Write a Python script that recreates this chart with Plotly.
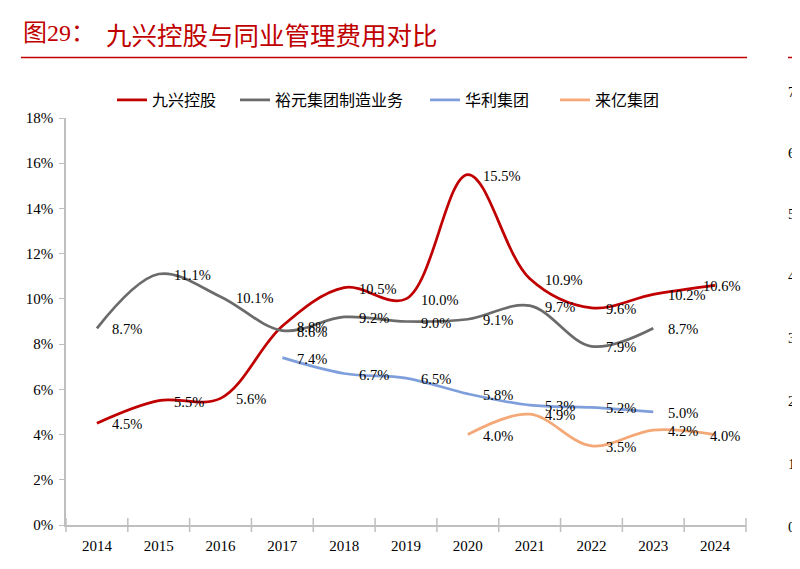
import plotly.graph_objects as go

years = ["2014", "2015", "2016", "2017", "2018", "2019", "2020", "2021", "2022", "2023", "2024"]
jiuxing = [4.5, 5.5, 5.6, 8.8, 10.5, 10.0, 15.5, 10.9, 9.6, 10.2, 10.6]
yuyuan = [8.7, 11.1, 10.1, 8.6, 9.2, 9.0, 9.1, 9.7, 7.9, 8.7, None]
huali = [None, None, None, 7.4, 6.7, 6.5, 5.8, 5.3, 5.2, 5.0, None]
laiyi = [None, None, None, None, None, None, 4.0, 4.9, 3.5, 4.2, 4.0]

series_names = ["九兴控股", "裕元集团制造业务", "华利集团", "来亿集团"]
series_values = [jiuxing, yuyuan, huali, laiyi]
series_colors = ["#C00000", "#6B6B6B", "#7F9FDC", "#F5A877"]

y_ticks = [0, 2, 4, 6, 8, 10, 12, 14, 16, 18]
title_prefix = "图29："
title_text = "九兴控股与同业管理费用对比"
neighbour_ticks = ["7", "6", "5", "4", "3", "2", "1", "0"]

# The page body has an 8px margin, so the figure is drawn from (8, 8).
OFF = 8
W, H = 800 - OFF, 569 - OFF
L, R, T, B = 66 - OFF, 746 - OFF, 118 - OFF, 525 - OFF

def px(xp):
    return (xp - OFF - L) / (R - L)

def py(yp):
    return (B - (yp - OFF)) / (B - T)

FONT = "Liberation Serif, 'Noto Sans CJK SC', serif"
CJK = "'Noto Sans CJK SC', sans-serif"

legend_ids = ["legend", "legend2", "legend3", "legend4"]
legend_x = [112, 235, 425, 555]

fig = go.Figure()
for name, vals, col, lid in zip(series_names, series_values, series_colors, legend_ids):
    fig.add_trace(go.Scatter(
        x=list(range(len(years))), y=vals, name=name, mode="lines",
        line=dict(color=col, width=2.75, shape="spline", smoothing=1.0),
        connectgaps=False, hoverinfo="skip", legend=lid,
    ))

last = len(years) - 1
annotations = []
for vals in series_values:
    for i, v in enumerate(vals):
        if v is None:
            continue
        if i == last:
            pos = dict(xanchor="right", xshift=27)
        else:
            pos = dict(xanchor="left", xshift=13)
        annotations.append(dict(
            x=i, y=v, xref="x", yref="y", text=f"{v:.1f}%", showarrow=False,
            yanchor="middle", yshift=-1,
            font=dict(family=FONT, size=14.5, color="#000000"), **pos,
        ))

# Title
annotations.append(dict(x=px(21), y=py(33), xref="paper", yref="paper", text=title_prefix,
                        showarrow=False, xanchor="left", yanchor="middle",
                        font=dict(family=FONT, size=24, color="#C00000")))
annotations.append(dict(x=px(104), y=py(33), xref="paper", yref="paper", text=title_text,
                        showarrow=False, xanchor="left", yanchor="middle",
                        font=dict(family=CJK, size=25.5, color="#C00000")))
# Neighbouring chart fragment on the right edge
annotations.append(dict(x=px(790), y=py(32), xref="paper", yref="paper", text="图",
                        showarrow=False, xanchor="left", yanchor="middle",
                        font=dict(family=CJK, size=25, color="#C00000")))
neighbour_y = [92, 153, 214, 276, 338, 401, 464, 527]
for t, yy in zip(neighbour_ticks, neighbour_y):
    annotations.append(dict(x=px(786), y=py(yy), xref="paper", yref="paper", text=t,
                            showarrow=False, xanchor="left", yanchor="middle",
                            font=dict(family=FONT, size=15, color="#000000")))

shapes = [
    dict(type="line", xref="paper", yref="paper", x0=px(21), x1=px(747), y0=py(57.5), y1=py(57.5),
         line=dict(color="#C00000", width=1.5)),
    dict(type="line", xref="paper", yref="paper", x0=px(788), x1=px(805), y0=py(57.5), y1=py(57.5),
         line=dict(color="#C00000", width=1.5)),
]

legend_common = dict(orientation="h", yanchor="middle", y=py(100), xanchor="left",
                     font=dict(family=CJK, size=16, color="#000000"),
                     itemwidth=30, bgcolor="rgba(0,0,0,0)")
layout_legends = {lid: dict(x=px(lx), **legend_common) for lid, lx in zip(legend_ids, legend_x)}

fig.update_layout(
    width=W, height=H,
    margin=dict(l=L, r=W - R, t=T, b=H - B),
    paper_bgcolor="white", plot_bgcolor="white",
    font=dict(family=FONT, size=15, color="#000000"),
    showlegend=True,
    annotations=annotations,
    shapes=shapes,
    **layout_legends,
)
fig.update_xaxes(
    tickmode="array", tickvals=list(range(len(years))), ticktext=years,
    range=[-0.5, len(years) - 0.5],
    showline=True, linecolor="#BFBFBF", linewidth=1.5,
    ticks="", showgrid=False, zeroline=False,
    tickfont=dict(family=FONT, size=15, color="#000000"),
    ticklabelstandoff=6,
)
fig.update_yaxes(
    range=[0, 18], tickvals=y_ticks, ticktext=[f"{v}%" for v in y_ticks],
    showline=True, linecolor="#BFBFBF", linewidth=1.5,
    ticks="outside", ticklen=5, tickcolor="#BFBFBF",
    showgrid=False, zeroline=False,
    tickfont=dict(family=FONT, size=15, color="#000000"),
    ticklabelstandoff=3,
)
# boundary tick marks on the x axis (between categories)
fig.add_trace(go.Scatter(
    x=[k - 0.5 for k in range(len(years) + 1)], y=[0] * (len(years) + 1),
    mode="markers", marker=dict(symbol="line-ns", size=10, line=dict(color="#BFBFBF", width=1.5)),
    showlegend=False, hoverinfo="skip", cliponaxis=False,
))

fig.write_html("out.html")
